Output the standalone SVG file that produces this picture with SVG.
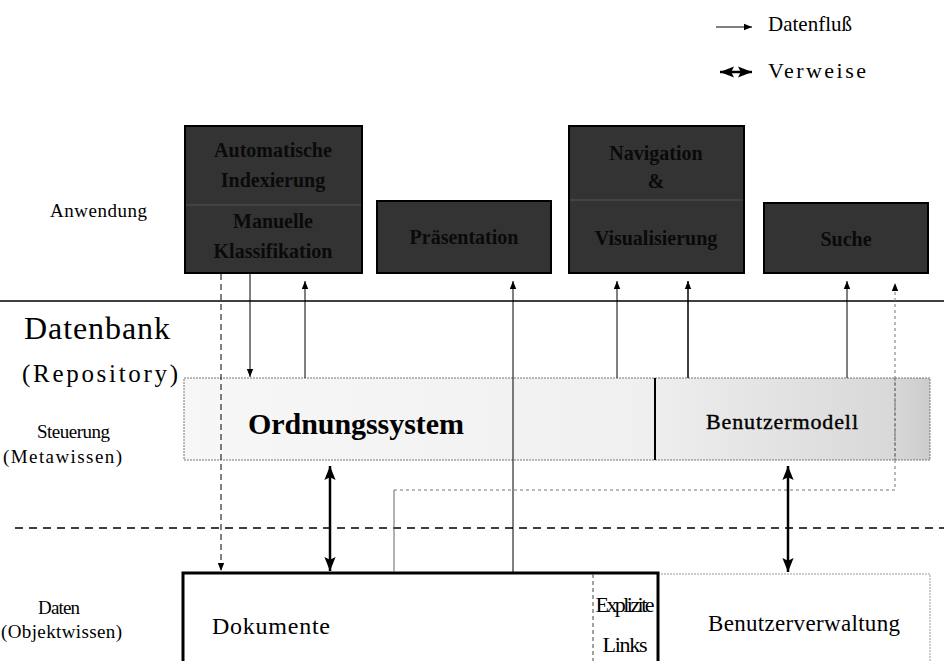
<svg xmlns="http://www.w3.org/2000/svg" width="944" height="661" viewBox="0 0 944 661" font-family="Liberation Serif, serif">
<defs>
<style>
text{font-family:"Liberation Serif","Times New Roman",serif;fill:#000}
.lbl{font-size:19px}
.dark{fill:#333;stroke:#000;stroke-width:2}
.dtxt{font-size:20px;font-weight:bold;fill:#0a0a0a;text-anchor:middle}
.thin{stroke:#000;stroke-width:1;fill:none}
.thick{stroke:#000;stroke-width:2.5;fill:none}
</style>
<marker id="a" viewBox="0 0 10 10" refX="10" refY="5" markerWidth="8" markerHeight="8" markerUnits="userSpaceOnUse" orient="auto"><path d="M0,1 L10,5 L0,9 z" fill="#000"/></marker>
<marker id="b" viewBox="0 0 10 10" refX="10" refY="5" markerWidth="14" markerHeight="14" markerUnits="userSpaceOnUse" orient="auto-start-reverse"><path d="M0,1 L10,5 L0,9 L2,5 z" fill="#000"/></marker>
<linearGradient id="g" x1="0" x2="1" y1="0" y2="0"><stop offset="0" stop-color="#f7f7f7"/><stop offset="0.6" stop-color="#f0f0f0"/><stop offset="0.95" stop-color="#d8d8d8"/><stop offset="1" stop-color="#cccccc"/></linearGradient>
</defs>
<rect width="944" height="661" fill="#fff"/>

<g id="legend">
<line class="thin" x1="716" y1="27" x2="752" y2="27" marker-end="url(#a)"/>
<text x="768" y="31" font-size="21" textLength="84">Datenfluß</text>
<line class="thick" x1="720" y1="72" x2="752" y2="72" marker-start="url(#b)" marker-end="url(#b)"/>
<text x="768" y="78" font-size="22" textLength="98">Verweise</text>
</g>

<g id="layer-labels">
<text x="50" y="217" class="lbl" textLength="97">Anwendung</text>
<text x="24" y="339" font-size="32" textLength="146">Datenbank</text>
<text x="22" y="382" font-size="25" textLength="156">(Repository)</text>
<text x="37" y="438" class="lbl" textLength="73">Steuerung</text>
<text x="3" y="463" class="lbl" textLength="119">(Metawissen)</text>
<text x="38" y="614" class="lbl" textLength="42">Daten</text>
<text x="1" y="638" class="lbl" textLength="121">(Objektwissen)</text>
</g>

<g id="separators">
<line x1="0" y1="301" x2="944" y2="301" stroke="#000" stroke-width="1.5"/>
<line x1="15" y1="528" x2="944" y2="528" stroke="#000" stroke-width="1.5" stroke-dasharray="8,6"/>
</g>

<g id="indexierung">
<rect class="dark" x="185" y="126" width="177" height="147"/>
<line x1="186" y1="205" x2="361" y2="205" stroke="#555" stroke-width="1"/>
<text class="dtxt" x="273" y="157">Automatische</text>
<text class="dtxt" x="273" y="187">Indexierung</text>
<text class="dtxt" x="273" y="228">Manuelle</text>
<text class="dtxt" x="273" y="258">Klassifikation</text>
</g>

<g id="praesentation">
<rect class="dark" x="377" y="201" width="174" height="72"/>
<text class="dtxt" x="464" y="244">Präsentation</text>
</g>

<g id="navigation">
<rect class="dark" x="569" y="126" width="175" height="147"/>
<line x1="570" y1="200" x2="743" y2="200" stroke="#555" stroke-width="1"/>
<text class="dtxt" x="656" y="160">Navigation</text>
<text class="dtxt" x="656" y="188">&amp;</text>
<text class="dtxt" x="656" y="245">Visualisierung</text>
</g>

<g id="suche">
<rect class="dark" x="764" y="203" width="164" height="70"/>
<text class="dtxt" x="846" y="246" font-size="24">Suche</text>
</g>

<g id="steuerung">
<rect x="184" y="378" width="746" height="82" fill="url(#g)" stroke="#777" stroke-width="1" stroke-dasharray="2,1"/>
<line x1="655" y1="378" x2="655" y2="460" stroke="#000" stroke-width="2"/>
<line x1="895" y1="378" x2="895" y2="460" stroke="#666" stroke-width="1" stroke-dasharray="3,2"/>
<text x="356" y="434" font-size="30" font-weight="bold" text-anchor="middle" textLength="216">Ordnungssystem</text>
<text x="782" y="429" font-size="22" text-anchor="middle" textLength="152" stroke="#000" stroke-width="0.4">Benutzermodell</text>
</g>

<g id="daten">
<rect x="658" y="574" width="272" height="95" fill="#fff" stroke="#999" stroke-width="1" stroke-dasharray="2,1"/>
<rect x="183" y="573" width="475" height="96" fill="#fff" stroke="#000" stroke-width="3"/>
<line x1="593" y1="574" x2="593" y2="661" stroke="#444" stroke-width="1" stroke-dasharray="4,3"/>
<text x="212" y="634" font-size="24" textLength="118">Dokumente</text>
<text x="625" y="612" font-size="22" text-anchor="middle" textLength="59">Explizite</text>
<text x="625" y="652" font-size="22" text-anchor="middle" textLength="45">Links</text>
<text x="804" y="631" font-size="23" text-anchor="middle" textLength="192">Benutzerverwaltung</text>
</g>

<g id="connectors">
<line x1="221" y1="274" x2="221" y2="571" stroke="#000" stroke-width="1" stroke-dasharray="6,4" marker-end="url(#a)"/>
<line class="thin" x1="250" y1="274" x2="250" y2="377" marker-end="url(#a)"/>
<line class="thin" x1="305" y1="378" x2="305" y2="281" marker-end="url(#a)"/>
<line class="thick" x1="330" y1="466" x2="330" y2="571" marker-start="url(#b)" marker-end="url(#b)"/>
<polyline points="394,490 895,490 895,283" fill="none" stroke="#777" stroke-width="1" stroke-dasharray="3,3" marker-end="url(#a)"/>
<line x1="394" y1="572" x2="394" y2="490" stroke="#666" stroke-width="1"/>
<line class="thin" x1="513" y1="572" x2="513" y2="281" marker-end="url(#a)"/>
<line class="thin" x1="617" y1="378" x2="617" y2="281" marker-end="url(#a)"/>
<line x1="688" y1="378" x2="688" y2="281" stroke="#000" stroke-width="1.5" marker-end="url(#a)"/>
<line class="thick" x1="788" y1="466" x2="788" y2="572" marker-start="url(#b)" marker-end="url(#b)"/>
<line class="thin" x1="847" y1="378" x2="847" y2="281" marker-end="url(#a)"/>
</g>
</svg>
